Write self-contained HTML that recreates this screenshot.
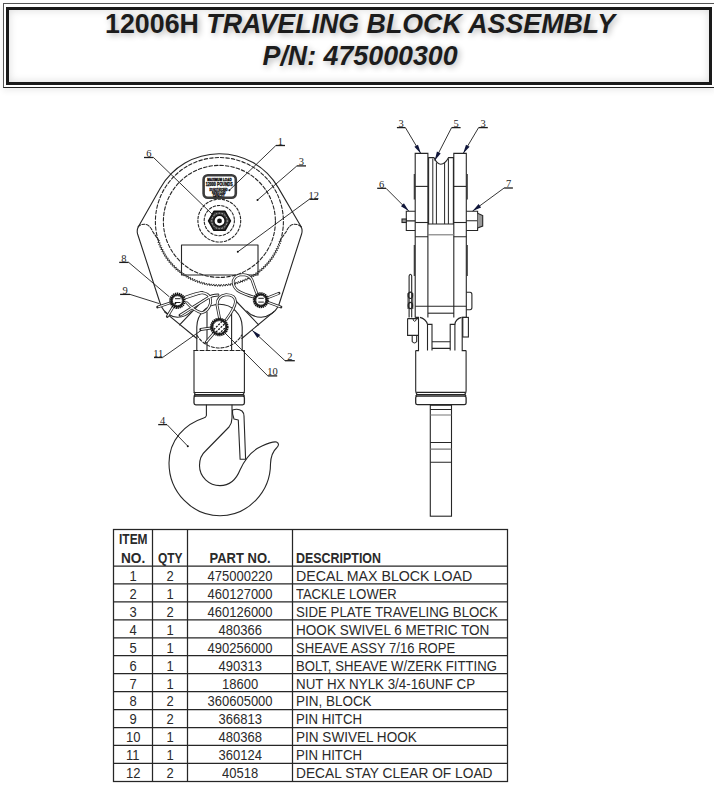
<!DOCTYPE html>
<html><head><meta charset="utf-8">
<style>
html,body{margin:0;padding:0;background:#fff;}
body{width:714px;height:789px;position:relative;overflow:hidden;font-family:"Liberation Sans",sans-serif;}
#outer{position:absolute;left:3px;top:3px;width:709px;height:83px;border:1px solid #555;border-bottom-color:#222;border-right-color:#bbb;box-shadow:0 3px 6px rgba(0,0,0,0.07);box-sizing:border-box;width:712px;height:85px;}
#inner{position:absolute;left:6px;top:7px;width:706px;height:78px;box-sizing:border-box;border:3px solid #1a1a1a;box-shadow:inset 0 0 8px rgba(0,0,0,0.15);}
.title{position:absolute;left:0;width:714px;text-align:center;font-weight:bold;font-size:27.4px;color:#1c1c1c;line-height:30px;text-shadow:2px 2px 6px rgba(0,0,0,0.3);transform:scaleX(0.978);transform-origin:361px 0;white-space:nowrap;}
.title i{font-style:italic;}
#t1{top:9px;left:3px;}
#t2{top:40.7px;left:2.5px;}
svg{position:absolute;left:0;top:0;}
.c{position:absolute;font-size:13px;color:#2a2a2a;white-space:nowrap;line-height:14px;}
.h{font-weight:bold;}
.lb{font-size:8px;fill:#333;font-family:"Liberation Sans",sans-serif;}
</style></head><body>
<div id="outer"></div>
<div id="inner"></div>
<div class="title" id="t1">12006H <i>TRAVELING BLOCK ASSEMBLY</i></div>
<div class="title" id="t2"><i>P/N: 475000300</i></div>
<svg width="714" height="789" viewBox="0 0 714 789">
<g stroke="#262626" stroke-width="1.25" fill="none">
<rect x="113.5" y="529.5" width="394.0" height="252.0"/>
<line x1="152.5" y1="529.5" x2="152.5" y2="781.5"/>
<line x1="187.5" y1="529.5" x2="187.5" y2="781.5"/>
<line x1="292.5" y1="529.5" x2="292.5" y2="781.5"/>
<line x1="113.5" y1="566.0" x2="507.5" y2="566.0"/>
<line x1="113.5" y1="583.9" x2="507.5" y2="583.9"/>
<line x1="113.5" y1="601.9" x2="507.5" y2="601.9"/>
<line x1="113.5" y1="619.8" x2="507.5" y2="619.8"/>
<line x1="113.5" y1="637.8" x2="507.5" y2="637.8"/>
<line x1="113.5" y1="655.7" x2="507.5" y2="655.7"/>
<line x1="113.5" y1="673.6" x2="507.5" y2="673.6"/>
<line x1="113.5" y1="691.6" x2="507.5" y2="691.6"/>
<line x1="113.5" y1="709.5" x2="507.5" y2="709.5"/>
<line x1="113.5" y1="727.5" x2="507.5" y2="727.5"/>
<line x1="113.5" y1="745.4" x2="507.5" y2="745.4"/>
<line x1="113.5" y1="763.4" x2="507.5" y2="763.4"/>
</g>
<g id="front" stroke="#262626" stroke-width="1.1" fill="none" stroke-linejoin="round" stroke-linecap="round">
  <!-- plate outer outline -->
  <path d="M 138.5 226.5 L 160.25 188.15 A 68 68 0 0 1 278.09 187.35 L 301 226.5"/>
  <path d="M 138.5 226.5 Q 136.5 230 137.6 234 L 161 306 Q 166 316 177.5 317.3 Q 186 317 191.5 311"/>
  <path d="M 301 226.5 Q 302.8 230 301.6 234 L 278.5 306 Q 273 316 261.1 317.3 Q 252 317 246.8 311"/>
  <!-- V lines -->
  <path d="M 164.5 311.8 L 196.8 338.5 M 203.2 300 L 179.6 324.8"/>
  <path d="M 273.7 311.8 L 241.8 338.5 M 235 300 L 258.6 324.8"/>
  <!-- left/right lobes dashed -->
  <path stroke-dasharray="3 1.6" d="M 138 226.8 Q 141 224 145 224.2 Q 150 225 153 232 L 158.4 240"/>
  <path stroke-dasharray="3 1.6" d="M 301 226.8 Q 298 224 294 224.2 Q 289 225 286 232 L 280.2 240"/>
  <!-- dashed circles -->
  <path stroke-dasharray="3.5 2" d="M 158.4 240.9 A 64.0 64.0 0 1 1 280.4 240.9"/>
  <path stroke="#2a2a2a" stroke-width="1" stroke-dasharray="4 0.9" d="M 159.4 240.6 L 157.9 242.4 L 160.2 242.9 L 158.7 244.8 L 161.1 245.2 L 159.7 247.1 L 162.0 247.5 L 160.8 249.4 L 163.1 249.7 L 161.9 251.7 L 164.3 251.9 L 163.1 253.9 L 165.5 254.0 L 164.4 256.1 L 166.8 256.1 L 165.8 258.2 L 168.2 258.1 L 167.3 260.3 L 169.7 260.1 L 168.9 262.3 L 171.2 262.0 L 170.5 264.2 L 172.8 263.8 L 172.2 266.1 L 174.5 265.6 L 174.0 267.9 L 176.3 267.4 L 175.9 269.7 L 178.1 269.0 L 177.8 271.3 L 180.0 270.6 L 179.8 272.9 L 182.0 272.1 L 181.8 274.4 L 184.0 273.5 L 183.9 275.9 L 186.1 274.9 L 186.1 277.2 L 188.2 276.1 L 188.3 278.5 L 190.3 277.3 L 190.6 279.7 L 192.6 278.4 L 192.9 280.7 L 194.8 279.4 L 195.2 281.7 L 197.1 280.3 L 197.6 282.6 L 199.4 281.1 L 200.0 283.4 L 201.8 281.9 L 202.4 284.1 L 204.1 282.5 L 204.9 284.8 L 206.5 283.1 L 207.4 285.3 L 209.0 283.5 L 209.9 285.7 L 211.4 283.9 L 212.4 286.0 L 213.9 284.2 L 215.0 286.2 L 216.3 284.3 L 217.5 286.4 L 218.8 284.4 L 220.0 286.4 L 221.2 284.4 L 222.6 286.3 L 223.7 284.3 L 225.1 286.1 L 226.2 284.0 L 227.6 285.9 L 228.6 283.7 L 230.2 285.5 L 231.0 283.3 L 232.7 285.0 L 233.5 282.8 L 235.1 284.5 L 235.8 282.2 L 237.6 283.8 L 238.2 281.5 L 240.0 283.0 L 240.6 280.7 L 242.4 282.2 L 242.9 279.9 L 244.8 281.2 L 245.1 278.9 L 247.1 280.2 L 247.4 277.9 L 249.4 279.1 L 249.5 276.7 L 251.6 277.9 L 251.7 275.5 L 253.8 276.6 L 253.8 274.2 L 255.9 275.2 L 255.8 272.8 L 258.0 273.7 L 257.8 271.3 L 260.0 272.1 L 259.7 269.8 L 262.0 270.5 L 261.6 268.2 L 263.9 268.8 L 263.4 266.5 L 265.7 267.0 L 265.1 264.8 L 267.4 265.2 L 266.8 262.9 L 269.1 263.3 L 268.4 261.0 L 270.7 261.3 L 269.9 259.1 L 272.2 259.3 L 271.3 257.1 L 273.7 257.2 L 272.7 255.0 L 275.0 255.0 L 273.9 252.9 L 276.3 252.8 L 275.1 250.8 L 277.5 250.6 L 276.2 248.6 L 278.6 248.3 L 277.3 246.3 L 279.6 245.9 L 278.2 244.0 L 280.5 243.6 L 279.0 241.7 L 281.3 241.2"/>
  <circle cx="219.4" cy="221.4" r="56" stroke-dasharray="3.5 2" />
  <circle cx="219.3" cy="220.6" r="21.4" stroke-dasharray="2.5 1.8" />
  <circle cx="219.3" cy="220.6" r="15.1" stroke-dasharray="2.5 1.8" />
  <!-- hex nut -->
  <path d="M 208.6 220.8 L 214 211.4 L 225 211.4 L 230.4 220.8 L 225 230.3 L 214 230.3 Z" stroke-width="1.6" fill="#3a3a3a" stroke="#111"/>
  <circle cx="219.5" cy="220.9" r="7.8" stroke-width="1" stroke="#bbb" stroke-dasharray="0.8 2.2"/>
  <circle cx="219.5" cy="220.9" r="5.6" fill="#fff" stroke="#111" stroke-width="1.4"/>
  <circle cx="219.5" cy="220.9" r="2.4" fill="#111" stroke="none"/>
  <!-- decal 1 -->
  <rect x="203.6" y="175.3" width="32.2" height="22.4" rx="4.2" stroke="#3c3c3c" stroke-width="2.6" fill="#fff"/>
  <g fill="#111" stroke="#111" stroke-width="0.35" font-family="Liberation Sans" font-weight="bold" text-anchor="middle">
    <text x="219.4" y="181" font-size="3.6" textLength="24.5" lengthAdjust="spacingAndGlyphs">MAXIMUM LOAD</text>
    <text x="219.2" y="186.1" font-size="4.6" textLength="27" lengthAdjust="spacingAndGlyphs">12000 POUNDS</text>
    <text x="218.5" y="190.6" font-size="3.3" textLength="18" lengthAdjust="spacingAndGlyphs">DO NOT EXCEED</text>
    <text x="218.7" y="194" font-size="3.3" textLength="13.5" lengthAdjust="spacingAndGlyphs">RATED LOAD</text>
    <text x="218.7" y="197" font-size="3" textLength="11.5" lengthAdjust="spacingAndGlyphs">CAPACITY</text>
  </g>
  <!-- decal 12 rect -->
  <rect x="181.5" y="245" width="76.5" height="30"/>
  <!-- shackle U -->
  <path d="M 196.8 350.5 L 196.8 327 A 22.7 22.7 0 0 1 242.2 327 L 242.2 350.5"/>
  <path d="M 207 350.5 L 207 312 M 231.6 312 L 231.6 350.5"/>
  <path stroke-dasharray="3 1.8" d="M 196.8 335 A 26 26 0 0 0 241.8 335"/>
  <!-- swivel body -->
  <path d="M 194 350.5 L 244.4 350.5" stroke-dasharray="4 2"/>
  <path d="M 194 350.5 L 194 391.2 Q 194 392.5 195.3 392.5 L 243.1 392.5 Q 244.4 392.5 244.4 391.2 L 244.4 350.5"/>
  <path d="M 194.6 394.6 L 243.8 394.6" stroke-width="1.2"/>
  <path d="M 195.8 396 L 242.6 396 Q 244.4 396 244.4 397.8 L 244.4 403 Q 244.4 404.8 242.6 404.8 L 195.8 404.8 Q 194 404.8 194 403 L 194 397.8 Q 194 396 195.8 396" stroke-width="1.3"/>
  <path d="M 194 392.5 L 195.5 394.6 L 194 396 M 244.4 392.5 L 242.9 394.6 L 244.4 396"/>
  <!-- hook -->
  <path d="M 206.4 405 L 206.4 415.5 Q 206 417.5 203.7 418 C 185 424 169 440 169 463 C 169 492 192 515.7 220 515.7 C 248 515.7 270.5 492 270.5 463.8 Q 271 453 276.5 448 Q 280.5 444 276.5 442 Q 273 441 262 446 Q 248 452 240 470 C 236 480 229 485.6 220 485.6 C 209 485.6 199.5 477 199.5 465.6 C 199.5 458 202 454 205.5 451 L 229 427 Q 232 423 232 418 L 232 405"/>
  <path d="M 232.5 410 Q 238 408 242 411 Q 244 413 244 416 L 245.6 459.2 L 240.1 459.2 L 238.3 420 L 234 419 Q 232 414 232.5 410"/>
</g>
<g id="pins" stroke="#1e1e1e" fill="none">
  <!-- R clips (double wire) -->
  <g stroke-width="2.8" stroke="#2a2a2a" stroke-linecap="round">
    <path d="M 157.6 307 L 202 292.5"/>
    <path d="M 167.3 316.6 L 177 300.6"/>
    <path d="M 177 300.6 Q 192 294 201 292.6 Q 211 293 210.7 302.7 Q 208 312 201.8 312.8 Q 194 311 186.7 302.7"/>
    <path d="M 180 315.3 L 207.7 298 Q 212 295 218 295"/>
    <path d="M 219.5 318 L 217 305 Q 217 296 226.2 294.7 Q 235.5 295 235.5 301.8 Q 235 308 226 320"/>
    <path d="M 200.7 329.5 L 211 328 M 206 342.3 L 214 333"/>
    <path d="M 280.9 307 L 255 297.5 Q 243 294 237.5 290.5 Q 232.5 286 233.3 280.5 Q 235.5 274.6 243 274.6 Q 250 275 252 280 L 255.5 290 Q 257.5 296 260.8 300.2"/>
    <path d="M 279 293.3 L 262 300"/>
  </g>
  <g stroke-width="1.2" stroke="#fff" stroke-linecap="round">
    <path d="M 158.6 306.7 L 202 292.5"/>
    <path d="M 167.8 315.8 L 177 300.6"/>
    <path d="M 177 300.6 Q 192 294 201 292.6 Q 211 293 210.7 302.7 Q 208 312 201.8 312.8 Q 194 311 186.7 302.7"/>
    <path d="M 180.6 314.9 L 207.7 298 Q 212 295 218 295"/>
    <path d="M 219.5 318 L 217 305 Q 217 296 226.2 294.7 Q 235.5 295 235.5 301.8 Q 235 308 226 320"/>
    <path d="M 201.5 329.4 L 211 328 M 206.6 341.6 L 214 333"/>
    <path d="M 280 306.7 L 255 297.5 Q 243 294 237.5 290.5 Q 232.5 286 233.3 280.5 Q 235.5 274.6 243 274.6 Q 250 275 252 280 L 255.5 290 Q 257.5 296 260.8 300.2"/>
    <path d="M 278.3 293.6 L 262 300"/>
  </g>
  <circle cx="177.4" cy="300.7" r="7.0" stroke-width="2.4" stroke-dasharray="1.3 0.6" stroke="#111"/>
  <circle cx="177.4" cy="300.7" r="5.9" stroke-width="1.8" stroke="#1a1a1a"/>
  <circle cx="177.4" cy="300.7" r="5.0" fill="#fff" stroke-width="0.9"/>
  <circle cx="260.8" cy="300.2" r="6.8" stroke-width="2.4" stroke-dasharray="1.3 0.6" stroke="#111"/>
  <circle cx="260.8" cy="300.2" r="5.9" stroke-width="1.8" stroke="#1a1a1a"/>
  <circle cx="260.8" cy="300.2" r="5.0" fill="#fff" stroke-width="0.9"/>
  <circle cx="219.3" cy="327" r="8.1" stroke-width="2.4" stroke-dasharray="1.3 0.6" stroke="#111"/>
  <circle cx="219.3" cy="327" r="7.3" stroke-width="1.8" stroke="#1a1a1a"/>
  <circle cx="219.3" cy="327" r="6.4" fill="#fff" stroke-width="0.9"/>
  <g stroke-width="1">
    <path d="M 175 298.7 L 180.5 298.7 M 175 302.5 L 180.5 302.5 M 258.3 298.3 L 263.8 298.3 M 258.3 302.1 L 263.8 302.1"/>
    <circle cx="175.3" cy="303.6" r="1" fill="#111" stroke="none"/>
    <path stroke="#111" stroke-width="1.3" stroke-dasharray="2 1.2" d="M 213.8 329.5 L 222.5 321 M 216 332 L 225 323.5 M 218.8 334 L 225.5 327.5"/>
  </g>
</g>
<g id="side" stroke="#262626" stroke-width="1.1" fill="none">
  <!-- plates -->
  <path d="M 415.2 317.4 L 415.2 153.4 L 427.9 153.4 L 427.9 317.4"/>
  <path d="M 453.8 317.4 L 453.8 153.4 L 466.3 153.4 L 466.3 317.4"/>
  <path d="M 414.3 174 L 414.3 199.5 M 467.2 174 L 467.2 199.5 M 414.3 245 L 414.3 276 M 467.2 245 L 467.2 276" stroke-width="1.1"/>
  <line x1="415.2" y1="186.4" x2="427.9" y2="186.4"/>
  <line x1="453.8" y1="186.4" x2="466.3" y2="186.4"/>
  <!-- sheave -->
  <path d="M 428.6 224.3 L 428.6 157.6 L 433.9 157.6 Q 437 164.3 440.8 164.3 Q 445 164.3 448.6 157.6 L 453.4 157.6 L 453.4 224.3"/>
  <path d="M 432.8 158.5 L 432.8 224 M 436.4 162.5 L 436.4 224 M 444.6 162.5 L 444.6 224 M 448.4 158.5 L 448.4 224" stroke-width="1"/>
  
  <line x1="415.2" y1="222.5" x2="428" y2="222.5"/>
  <line x1="453.8" y1="222.5" x2="466.3" y2="222.5"/>
  <path d="M 415.2 236.7 L 428 236.7 M 453.8 236.7 L 466.3 236.7 M 428 224 L 454 224"/>
  <line x1="428" y1="234.8" x2="454" y2="234.8" stroke="#777"/>
  <!-- bolt head & nut -->
  <path d="M 415.2 211.3 L 406.3 211.3 L 406.3 230.5 L 415.2 230.5 M 406.3 220.9 L 415.2 220.9"/>
  <rect x="402" y="219" width="4.3" height="3.5" fill="#999"/>
  <path d="M 466.3 211.3 L 477.6 211.3 L 477.6 230.5 L 466.3 230.5 M 466.3 220.8 L 477.6 220.8"/>
  <path d="M 477.6 213.2 L 482.7 215.5 L 482.7 226 L 477.6 228" fill="#999"/>
  <!-- lower plate region -->
  <line x1="415.2" y1="306.2" x2="466.3" y2="306.2"/>
  <line x1="428" y1="313.2" x2="454" y2="313.2"/>
  <path d="M 420 317.4 Q 426 319 427.5 324.4 L 432 324.4 L 432 350.5 M 461.5 317.4 Q 455.5 319 454.9 324.4 L 450.2 324.4 L 450.2 350.5"/>
  <path d="M 427.5 324.4 L 427.5 350.5 M 454.9 324.4 L 454.9 350.5"/>
  <path d="M 432 341.7 L 450.2 341.7 M 432 348.4 L 450.2 348.4"/>
  <path d="M 415.2 317.4 L 418.5 317.4 L 418.5 350.6 L 415.7 350.6 M 466.3 317.4 L 462.2 317.4 L 462.2 350.6 L 466.1 350.6"/>
  <!-- hitch pin left -->
  <path d="M 409.1 317.6 L 409.1 276 Q 410.4 272.5 411.7 276 L 411.7 317.6"/>
  <ellipse cx="410.4" cy="295.3" rx="2.2" ry="3.2" stroke-width="1.2"/>
  <ellipse cx="410.4" cy="305.5" rx="2.2" ry="3.2" stroke-width="1.2"/>
  <path d="M 408 293 L 408 309 M 412.8 293 L 412.8 309" stroke-width="0.9"/>
  <path d="M 407.6 318.6 L 418.5 318.6 M 407.6 318.6 L 407.6 335.4 L 418.5 335.4"/>
  <path d="M 413.2 318.6 L 413.2 320 Q 414.7 323 416.2 320 L 416.2 318.6" stroke-width="1"/>
  <path d="M 412.2 335.4 L 412.2 341.5 Q 414.45 344.5 416.7 341.5 L 416.7 335.4"/>
  <!-- right small rects -->
  <path d="M 466.3 292.2 L 470 292.2 Q 471.9 292.2 471.9 294.5 L 471.9 307.5 Q 471.9 309.7 470 309.7 L 466.3 309.7"/>
  <rect x="462.8" y="317.4" width="5.6" height="19.6"/>
  <!-- swivel body -->
  <path d="M 415.7 350.6 L 415.7 391.2 Q 415.7 392.4 417 392.4 L 464.8 392.4 Q 466.1 392.4 466.1 391.2 L 466.1 350.6"/>
  <path d="M 416.3 394.5 L 465.5 394.5" stroke-width="1.2"/>
  <path d="M 417.5 396 L 464.3 396 Q 466.1 396 466.1 397.8 L 466.1 403 Q 466.1 404.7 464.3 404.7 L 417.5 404.7 Q 415.7 404.7 415.7 403 L 415.7 397.8 Q 415.7 396 417.5 396" stroke-width="1.3"/>
  <path d="M 415.7 392.4 L 417.2 394.5 L 415.7 396 M 466.1 392.4 L 464.6 394.5 L 466.1 396"/>
  <!-- shank -->
  <rect x="430.3" y="405.2" width="21.2" height="111"/>
  <path d="M 430.3 409.5 L 451.5 409.5 M 430.3 442.5 L 451.5 442.5 M 430.3 462.3 L 451.5 462.3"/>
  <path d="M 430.3 415 L 451.5 415 M 430.3 449.1 L 451.5 449.1" stroke="#777"/>
</g>
<g id="labels" stroke="#1e1e1e" fill="none">
<line x1="144" y1="157.5" x2="153.5" y2="157.5" stroke-width="1.3"/>
<line x1="153.5" y1="157.5" x2="212.5" y2="214.5" stroke-width="0.9"/>
<line x1="275.9" y1="145.5" x2="285" y2="145.5" stroke-width="1.3"/>
<line x1="275.9" y1="145.5" x2="229.4" y2="190.2" stroke-width="0.9"/>
<circle cx="229.4" cy="190.2" r="1" fill="#111" stroke="none"/>
<line x1="296.9" y1="165.9" x2="306" y2="165.9" stroke-width="1.3"/>
<line x1="296.9" y1="165.9" x2="257.5" y2="200" stroke-width="0.9"/>
<circle cx="257.5" cy="200" r="1" fill="#111" stroke="none"/>
<line x1="309.3" y1="199.3" x2="318.1" y2="199.3" stroke-width="1.3"/>
<line x1="309.3" y1="199.3" x2="237.8" y2="251.8" stroke-width="0.9"/>
<circle cx="237.8" cy="251.8" r="1" fill="#111" stroke="none"/>
<line x1="119.2" y1="262.4" x2="128.7" y2="262.4" stroke-width="1.3"/>
<line x1="128.7" y1="262.4" x2="169.4" y2="296.9" stroke-width="0.9"/>
<line x1="120.1" y1="294.4" x2="130" y2="294.4" stroke-width="1.3"/>
<line x1="130" y1="294.4" x2="159.3" y2="303.6" stroke-width="0.9"/>
<line x1="154" y1="357.5" x2="162.6" y2="357.5" stroke-width="1.3"/>
<line x1="162.6" y1="357.5" x2="201.3" y2="330.3" stroke-width="0.9"/>
<line x1="267.8" y1="375.9" x2="277.2" y2="375.9" stroke-width="1.3"/>
<line x1="267.8" y1="375.9" x2="224" y2="332" stroke-width="0.9"/>
<line x1="285" y1="360.7" x2="294.8" y2="360.7" stroke-width="1.3"/>
<line x1="285" y1="360.7" x2="252.2" y2="330.3" stroke-width="0.9"/>
<path d="M 252.2 330.3 L 260.23 334.88 L 257.37 337.96 Z" fill="#10163a" stroke="none"/>
<line x1="158.2" y1="424.6" x2="167" y2="424.6" stroke-width="1.3"/>
<line x1="167" y1="424.6" x2="187.8" y2="446.2" stroke-width="0.9"/>
<circle cx="187.8" cy="446.2" r="1" fill="#111" stroke="none"/>
<line x1="396.9" y1="127.6" x2="405.4" y2="127.6" stroke-width="1.3"/>
<line x1="405.4" y1="127.6" x2="420.8" y2="153.5" stroke-width="0.9"/>
<path d="M 420.8 153.5 L 414.40 146.84 L 418.01 144.69 Z" fill="#10163a" stroke="none"/>
<line x1="451.6" y1="127.6" x2="460.6" y2="127.6" stroke-width="1.3"/>
<line x1="451.6" y1="127.6" x2="434.7" y2="160.5" stroke-width="0.9"/>
<path d="M 434.7 160.5 L 436.94 151.53 L 440.68 153.45 Z" fill="#10163a" stroke="none"/>
<line x1="478.6" y1="127.6" x2="487.8" y2="127.6" stroke-width="1.3"/>
<line x1="478.6" y1="127.6" x2="463.2" y2="153.5" stroke-width="0.9"/>
<path d="M 463.2 153.5 L 465.99 144.69 L 469.60 146.84 Z" fill="#10163a" stroke="none"/>
<line x1="377.2" y1="188.3" x2="386" y2="188.3" stroke-width="1.3"/>
<line x1="386" y1="188.3" x2="408.8" y2="211.1" stroke-width="0.9"/>
<path d="M 408.8 211.1 L 400.95 206.22 L 403.92 203.25 Z" fill="#10163a" stroke="none"/>
<line x1="504.1" y1="188" x2="512.9" y2="188" stroke-width="1.3"/>
<line x1="504.1" y1="188" x2="472.6" y2="211.1" stroke-width="0.9"/>
<path d="M 472.6 211.1 L 478.62 204.08 L 481.10 207.47 Z" fill="#10163a" stroke="none"/>
</g>
<g font-family="Liberation Serif" font-size="10.5" fill="#1e1e1e" text-anchor="middle">
<text x="148.8" y="156.9">6</text>
<text x="280.4" y="144.9">1</text>
<text x="301.4" y="165.3">3</text>
<text x="313.7" y="198.7">12</text>
<text x="123.9" y="261.8">8</text>
<text x="125.0" y="293.8">9</text>
<text x="158.3" y="356.9">11</text>
<text x="272.5" y="375.3">10</text>
<text x="289.9" y="360.1">2</text>
<text x="162.6" y="424.0">4</text>
<text x="401.1" y="127.0">3</text>
<text x="456.1" y="127.0">5</text>
<text x="483.2" y="127.0">3</text>
<text x="381.6" y="187.7">6</text>
<text x="508.5" y="187.4">7</text>
</g>
</svg>
<div class="c h" style="left:118.90px;top:531.70px;transform:scale(0.920,1.1);transform-origin:0 2.6px">ITEM</div><div class="c h" style="left:121.00px;top:550.60px;transform:scale(1.050,1.1);transform-origin:0 2.6px">NO.</div><div class="c h" style="left:158.00px;top:550.60px;transform:scale(0.920,1.1);transform-origin:0 2.6px">QTY</div><div class="c h" style="left:209.50px;top:550.60px;transform:scale(1.000,1.1);transform-origin:0 2.6px">PART NO.</div><div class="c h" style="left:296.00px;top:550.60px;transform:scale(0.957,1.1);transform-origin:0 2.6px">DESCRIPTION</div><div class="c" style="left:129.50px;top:568.90px;transform:scale(1.000,1.1);transform-origin:0 2.6px">1</div><div class="c" style="left:166.50px;top:568.90px;transform:scale(1.000,1.1);transform-origin:0 2.6px">2</div><div class="c" style="left:207.50px;top:568.90px;transform:scale(1.000,1.1);transform-origin:0 2.6px">475000220</div><div class="c" style="left:296.00px;top:568.90px;transform:scale(1.092,1.1);transform-origin:0 2.6px">DECAL MAX BLOCK LOAD</div><div class="c" style="left:129.50px;top:586.84px;transform:scale(1.000,1.1);transform-origin:0 2.6px">2</div><div class="c" style="left:166.50px;top:586.84px;transform:scale(1.000,1.1);transform-origin:0 2.6px">1</div><div class="c" style="left:207.50px;top:586.84px;transform:scale(1.000,1.1);transform-origin:0 2.6px">460127000</div><div class="c" style="left:296.00px;top:586.84px;transform:scale(0.998,1.1);transform-origin:0 2.6px">TACKLE LOWER</div><div class="c" style="left:129.50px;top:604.78px;transform:scale(1.000,1.1);transform-origin:0 2.6px">3</div><div class="c" style="left:166.50px;top:604.78px;transform:scale(1.000,1.1);transform-origin:0 2.6px">2</div><div class="c" style="left:207.50px;top:604.78px;transform:scale(1.000,1.1);transform-origin:0 2.6px">460126000</div><div class="c" style="left:296.00px;top:604.78px;transform:scale(1.019,1.1);transform-origin:0 2.6px">SIDE PLATE TRAVELING BLOCK</div><div class="c" style="left:129.50px;top:622.73px;transform:scale(1.000,1.1);transform-origin:0 2.6px">4</div><div class="c" style="left:166.50px;top:622.73px;transform:scale(1.000,1.1);transform-origin:0 2.6px">1</div><div class="c" style="left:218.50px;top:622.73px;transform:scale(1.000,1.1);transform-origin:0 2.6px">480366</div><div class="c" style="left:296.00px;top:622.73px;transform:scale(1.043,1.1);transform-origin:0 2.6px">HOOK SWIVEL 6 METRIC TON</div><div class="c" style="left:129.50px;top:640.67px;transform:scale(1.000,1.1);transform-origin:0 2.6px">5</div><div class="c" style="left:166.50px;top:640.67px;transform:scale(1.000,1.1);transform-origin:0 2.6px">1</div><div class="c" style="left:207.50px;top:640.67px;transform:scale(1.000,1.1);transform-origin:0 2.6px">490256000</div><div class="c" style="left:296.00px;top:640.67px;transform:scale(1.004,1.1);transform-origin:0 2.6px">SHEAVE ASSY 7/16 ROPE</div><div class="c" style="left:129.50px;top:658.61px;transform:scale(1.000,1.1);transform-origin:0 2.6px">6</div><div class="c" style="left:166.50px;top:658.61px;transform:scale(1.000,1.1);transform-origin:0 2.6px">1</div><div class="c" style="left:218.50px;top:658.61px;transform:scale(1.000,1.1);transform-origin:0 2.6px">490313</div><div class="c" style="left:296.00px;top:658.61px;transform:scale(1.010,1.1);transform-origin:0 2.6px">BOLT, SHEAVE W/ZERK FITTING</div><div class="c" style="left:129.50px;top:676.55px;transform:scale(1.000,1.1);transform-origin:0 2.6px">7</div><div class="c" style="left:166.50px;top:676.55px;transform:scale(1.000,1.1);transform-origin:0 2.6px">1</div><div class="c" style="left:222.00px;top:676.55px;transform:scale(1.000,1.1);transform-origin:0 2.6px">18600</div><div class="c" style="left:296.00px;top:676.55px;transform:scale(1.026,1.1);transform-origin:0 2.6px">NUT HX NYLK 3/4-16UNF CP</div><div class="c" style="left:129.50px;top:694.49px;transform:scale(1.000,1.1);transform-origin:0 2.6px">8</div><div class="c" style="left:166.50px;top:694.49px;transform:scale(1.000,1.1);transform-origin:0 2.6px">2</div><div class="c" style="left:207.50px;top:694.49px;transform:scale(1.000,1.1);transform-origin:0 2.6px">360605000</div><div class="c" style="left:296.00px;top:694.49px;transform:scale(1.036,1.1);transform-origin:0 2.6px">PIN, BLOCK</div><div class="c" style="left:129.50px;top:712.43px;transform:scale(1.000,1.1);transform-origin:0 2.6px">9</div><div class="c" style="left:166.50px;top:712.43px;transform:scale(1.000,1.1);transform-origin:0 2.6px">2</div><div class="c" style="left:218.50px;top:712.43px;transform:scale(1.000,1.1);transform-origin:0 2.6px">366813</div><div class="c" style="left:296.00px;top:712.43px;transform:scale(1.015,1.1);transform-origin:0 2.6px">PIN HITCH</div><div class="c" style="left:126.00px;top:730.37px;transform:scale(1.000,1.1);transform-origin:0 2.6px">10</div><div class="c" style="left:166.50px;top:730.37px;transform:scale(1.000,1.1);transform-origin:0 2.6px">1</div><div class="c" style="left:218.50px;top:730.37px;transform:scale(1.000,1.1);transform-origin:0 2.6px">480368</div><div class="c" style="left:296.00px;top:730.37px;transform:scale(1.043,1.1);transform-origin:0 2.6px">PIN SWIVEL HOOK</div><div class="c" style="left:126.00px;top:748.32px;transform:scale(1.000,1.1);transform-origin:0 2.6px">11</div><div class="c" style="left:166.50px;top:748.32px;transform:scale(1.000,1.1);transform-origin:0 2.6px">1</div><div class="c" style="left:218.50px;top:748.32px;transform:scale(1.000,1.1);transform-origin:0 2.6px">360124</div><div class="c" style="left:296.00px;top:748.32px;transform:scale(1.015,1.1);transform-origin:0 2.6px">PIN HITCH</div><div class="c" style="left:126.00px;top:766.26px;transform:scale(1.000,1.1);transform-origin:0 2.6px">12</div><div class="c" style="left:166.50px;top:766.26px;transform:scale(1.000,1.1);transform-origin:0 2.6px">2</div><div class="c" style="left:222.00px;top:766.26px;transform:scale(1.000,1.1);transform-origin:0 2.6px">40518</div><div class="c" style="left:296.00px;top:766.26px;transform:scale(1.057,1.1);transform-origin:0 2.6px">DECAL STAY CLEAR OF LOAD</div>
</body></html>
